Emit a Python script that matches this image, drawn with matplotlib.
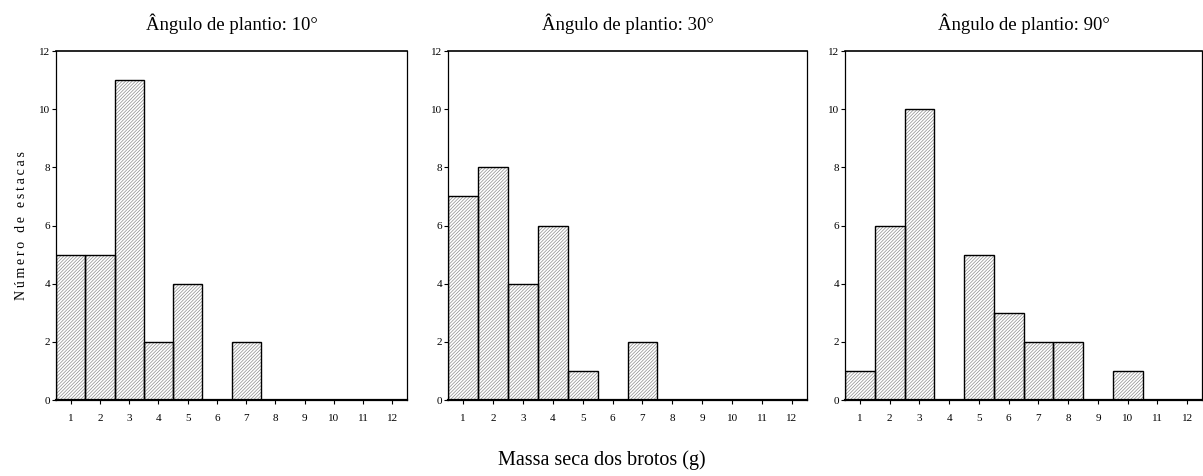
import numpy as np
import matplotlib
matplotlib.use("Agg")
import matplotlib.pyplot as plt

# classes de massa seca (g) e contagens por angulo de plantio
classes = list(range(1, 13))
titles = ["Ângulo de plantio: 10°", "Ângulo de plantio: 30°", "Ângulo de plantio: 90°"]
counts_10 = [5, 5, 11, 2, 4, 0, 2, 0, 0, 0, 0, 0]
counts_30 = [7, 8, 4, 6, 1, 0, 2, 0, 0, 0, 0, 0]
counts_90 = [1, 6, 10, 0, 5, 3, 2, 2, 0, 1, 0, 0]
y_ticks = [0, 2, 4, 6, 8, 10, 12]

plt.rcParams['font.family'] = ['Liberation Serif', 'DejaVu Serif']
plt.rcParams['hatch.linewidth'] = 0.5

fig = plt.figure(figsize=(12.03, 4.76), dpi=100)
lefts = [56, 448, 845]
widths = [351, 359, 357]
bottom, top = 400, 51
axes = []
for l, w in zip(lefts, widths):
    axes.append(fig.add_axes([l / 1203, 1 - bottom / 476, w / 1203,
                              (bottom - top) / 476]))

for ax, title, counts in zip(axes, titles, [counts_10, counts_30, counts_90]):
    # hachura cinza fina, depois o contorno preto por cima
    ax.bar(classes, counts, width=1.0, color='white', edgecolor='#8c8c8c',
           linewidth=0, hatch='/' * 10)
    ax.bar(classes, counts, width=1.0, fill=False, edgecolor='black',
           linewidth=1.0)
    ax.set_xlim(0.5, 12.5)
    ax.set_ylim(0, 12)
    ax.set_xticks(classes)
    ax.set_yticks(y_ticks)
    ax.tick_params(labelsize=8, length=3, width=0.8, direction='out', pad=7)
    ax.tick_params(axis='y', pad=1)
    for s in ax.spines.values():
        s.set_linewidth(0.9)
    ax.spines['top'].set_linewidth(1.2)
    ax.spines['bottom'].set_linewidth(1.6)
    ax.set_title(title, fontsize=13.5, pad=15)

ylab = "\u2009".join("Número de estacas")
axes[0].set_ylabel(ylab, fontsize=10, labelpad=8)
fig.text(0.5, 1 - 460 / 476, "Massa seca dos brotos (g)", ha='center',
         va='center', fontsize=14.5)

fig.savefig("out.png", dpi=100)
